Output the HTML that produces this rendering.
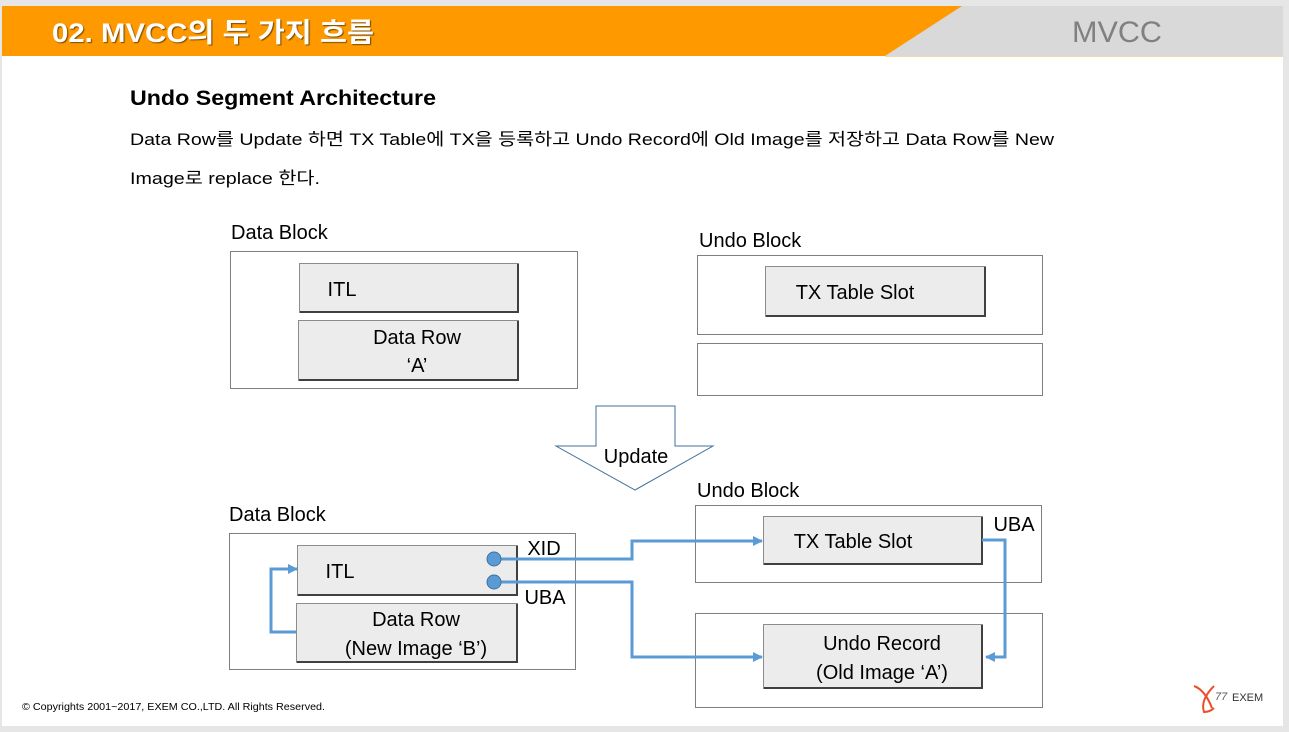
<!DOCTYPE html>
<html><head><meta charset="utf-8"><style>
body{margin:0;width:1289px;height:732px;overflow:hidden;background:#e6e6e6;font-family:"Liberation Sans","Noto Sans CJK KR",sans-serif}
</style></head><body>
<svg width="1289" height="732" xmlns="http://www.w3.org/2000/svg" style="position:absolute;left:0;top:0">
<defs><marker id="ar" markerWidth="10" markerHeight="10" refX="9" refY="5" orient="auto" markerUnits="userSpaceOnUse"><path d="M0,0 L10,5 L0,10 Z" fill="#5b9bd5"/></marker></defs>
<rect x="2" y="6" width="1281" height="720" fill="#fff"/>
<rect x="2" y="6" width="1281" height="50" fill="#d9d9d9"/>
<polygon points="2,6 962,6 885,56 2,56" fill="#ff9900"/>
<line x1="885" y1="56.5" x2="1283" y2="56.5" stroke="#f0d9a8" stroke-width="1"/>
<text x="52" y="42" font-size="27" font-weight="bold" fill="#fff" style="text-shadow:1px 1px 1px #7a4a00" textLength="322" lengthAdjust="spacingAndGlyphs">02. MVCC의 두 가지 흐름</text>
<text x="1072" y="42" font-size="30" fill="#808080" textLength="90" lengthAdjust="spacingAndGlyphs">MVCC</text>
<g fill="#000">
<text x="130" y="105" font-size="21" font-weight="bold" textLength="306" lengthAdjust="spacingAndGlyphs">Undo Segment Architecture</text>
<text x="130" y="145" font-size="17" textLength="924" lengthAdjust="spacingAndGlyphs">Data Row를 Update 하면 TX Table에 TX을 등록하고 Undo Record에 Old Image를 저장하고 Data Row를 New</text>
<text x="130" y="184" font-size="17" textLength="190" lengthAdjust="spacingAndGlyphs">Image로 replace 한다.</text>
</g>
<g font-size="20" fill="#000">
<text x="231" y="239">Data Block</text>
<text x="699" y="247">Undo Block</text>
<text x="229" y="521">Data Block</text>
<text x="697" y="497">Undo Block</text>
</g>
<g fill="#fff" stroke="#7f7f7f" stroke-width="1">
<rect x="230.5" y="251.5" width="347" height="137"/>
<rect x="697.5" y="255.5" width="345" height="79"/>
<rect x="697.5" y="343.5" width="345" height="52"/>
<rect x="229.5" y="533.5" width="346" height="136"/>
<rect x="695.5" y="505.5" width="346" height="77"/>
<rect x="695.5" y="613.5" width="347" height="94"/>
</g>
<g fill="#ececec" stroke="#8c8c8c" stroke-width="1">
<rect x="299.5" y="263.5" width="219" height="49"/>
<rect x="298.5" y="320.5" width="220" height="60"/>
<rect x="765.5" y="266.5" width="220" height="50"/>
<rect x="297.5" y="545.5" width="220" height="50"/>
<rect x="296.5" y="603.5" width="221" height="59"/>
<rect x="763.5" y="516.5" width="219" height="48"/>
<rect x="763.5" y="624.5" width="219" height="64"/>
</g>
<g fill="none" stroke="#404040" stroke-width="2">
<polyline points="300,312 518,312 518,264"/><polyline points="299,380 518,380 518,321"/>
<polyline points="766,316 985,316 985,267"/><polyline points="298,595 517,595 517,546"/>
<polyline points="297,662 517,662 517,604"/><polyline points="764,564 982,564 982,517"/>
<polyline points="764,688 982,688 982,625"/>
</g>
<g font-size="20" fill="#000" text-anchor="middle">
<text x="342" y="296">ITL</text>
<text x="417" y="344">Data Row</text><text x="417" y="372">‘A’</text>
<text x="855" y="299">TX Table Slot</text>
<text x="340" y="578">ITL</text>
<text x="416" y="626">Data Row</text><text x="416" y="655">(New Image ‘B’)</text>
<text x="853" y="548">TX Table Slot</text>
<text x="882" y="650">Undo Record</text><text x="882" y="679">(Old Image ‘A’)</text>
<text x="544" y="555">XID</text><text x="545" y="604">UBA</text><text x="1014" y="531">UBA</text>
</g>
<polygon points="596,406 675,406 675,446 713,446 635,490 556,446 596,446" fill="#fff" stroke="#41719c" stroke-width="1"/>
<text x="636" y="463" font-size="20" text-anchor="middle">Update</text>
<g fill="none" stroke="#5b9bd5" stroke-width="3">
<polyline points="494,559 632,559 632,541 762,541" marker-end="url(#ar)"/>
<polyline points="494,582 632,582 632,657 762,657" marker-end="url(#ar)"/>
<polyline points="296,632 271,632 271,569 297,569" marker-end="url(#ar)"/>
<polyline points="982,540 1005,540 1005,657 986,657" marker-end="url(#ar)"/>
</g>
<circle cx="494" cy="559" r="7" fill="#5b9bd5" stroke="#41719c"/>
<circle cx="494" cy="582" r="7" fill="#5b9bd5" stroke="#41719c"/>
<text x="22" y="710" font-size="10" fill="#000" textLength="303" lengthAdjust="spacingAndGlyphs">© Copyrights 2001~2017, EXEM CO.,LTD. All Rights Reserved.</text>
<g fill="none" stroke="#e8502a" stroke-width="2"><path d="M1194,686 Q1205,690 1212,708"/><path d="M1214,686 Q1200,700 1204,712 Q1210,712 1214,708"/></g>
<text x="1215" y="700" font-size="11" fill="#555" font-style="italic">77</text>
<text x="1232" y="701" font-size="11" fill="#333">EXEM</text>
</svg>
</body></html>
